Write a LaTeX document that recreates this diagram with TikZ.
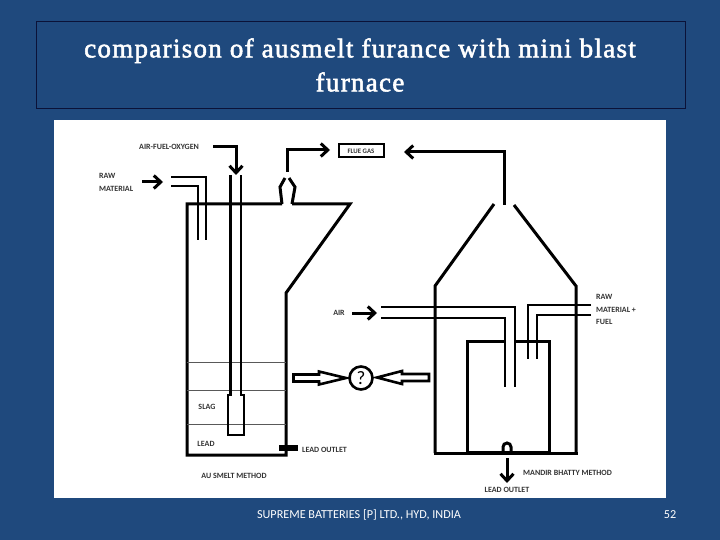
\documentclass[tikz,border=0pt]{standalone}
\usepackage{fontspec}
\setmainfont{Liberation Serif}
\setsansfont{Carlito}
\newfontfamily\titlefont[LetterSpace=4.8, FakeBold=2]{Liberation Serif}
\usepackage{xcolor}
\definecolor{slidebg}{HTML}{1F497D}
\definecolor{framedark}{HTML}{0B1238}
\definecolor{labeltext}{HTML}{333333}
\usetikzlibrary{arrows.meta, positioning}

\begin{document}
\begin{tikzpicture}[
        x=1pt, y=-1pt,
        wall/.style={draw=black, line width=3pt, line join=miter},
        pipe/.style={draw=black, line width=2.8pt},
        feed/.style={draw=black, line width=3pt, -{Straight Barb[length=7pt, width=13pt, line width=3pt]}},
        level/.style={draw=black!65, line width=0.7pt},
        hollow/.style={draw=black, line width=2.6pt, fill=white, line join=miter},
        tag/.style={font=\sffamily\bfseries\fontsize{8}{9}\selectfont, text=labeltext, inner sep=0pt}
    ]

    % Slide
    \fill[slidebg] (0, 0) rectangle (720, 540);
    \draw[framedark, line width=0.8pt] (36.5, 21.5) rectangle (685, 108);
    \fill[white] (54, 120) rectangle (666, 498);
    \node[text=white, font=\titlefont\fontsize{27}{34}\selectfont, align=center, inner sep=0pt] (title) at (360, 65) {comparison of ausmelt furance with mini blast\\furnace};
    \node[text=white, font=\sffamily\fontsize{12.2}{14}\selectfont, inner sep=0pt] (footer) at (359, 515) {SUPREME BATTERIES [P] LTD., HYD, INDIA};
    \node[text=white, font=\sffamily\fontsize{12.2}{14}\selectfont, inner sep=0pt] (page) at (670, 515) {52};

    % Au smelt furnace (left)
    \draw[wall] (282, 204) -- (187, 204) -- (187, 455) -- (286, 455) -- (286, 293) -- (350, 204) -- (292, 204);
    \draw[wall] (282, 204) -- (280, 187) -- (285, 178);
    \draw[wall] (292, 204) -- (295, 187) -- (289, 178);
    \draw[level] (187, 362) -- (286, 362);
    \draw[level] (187, 390) -- (286, 390);
    \draw[level] (187, 424) -- (286, 424);

    % Lance
    \draw[pipe] (230.5, 175) -- (230.5, 395) -- (228, 395) -- (228, 435) -- (244, 435) -- (244, 395) -- (241, 395) -- (241, 175);

    % Feed pipes, left
    \draw[pipe] (171, 177) -- (206, 177) -- (206, 240);
    \draw[pipe] (171, 186) -- (198, 186) -- (198, 240);
    \fill[black] (279, 445) rectangle (298, 451);

    % Arrows, left
    \draw[feed] (142, 182) -- (163, 182);
    \draw[feed] (213, 147) -- (236, 147) -- (236, 175);
    \draw[feed] (287, 172) -- (287, 150) -- (330, 150);

    % Flue gas box
    \node[draw=black, line width=2pt, minimum width=45pt, minimum height=13pt, inner sep=0pt, font=\sffamily\bfseries\fontsize{6.8}{8}\selectfont, text=labeltext] (flue) at (361, 151) {FLUE GAS};

    % Mandir bhatty furnace (right)
    \draw[wall] (435, 453) -- (435, 286) -- (494, 204);
    \draw[wall] (514, 205) -- (576, 286) -- (576, 453);
    \draw[wall] (434, 453) -- (578, 453);
    \draw[wall] (505, 341) -- (467, 341) -- (467, 453);
    \draw[wall] (515, 341) -- (549, 341) -- (549, 453);
    \draw[black, line width=4pt] (467, 452.5) -- (549, 452.5);
    \draw[wall] (503, 451) -- (503, 447) arc[start angle=180, end angle=360, radius=4] -- (511, 451);

    % Feed pipes, right
    \draw[pipe] (381, 307) -- (515, 307) -- (515, 387);
    \draw[pipe] (381, 318) -- (505, 318) -- (505, 387);
    \draw[pipe] (591, 305) -- (528, 305) -- (528, 359);
    \draw[pipe] (591, 315) -- (537, 315) -- (537, 359);

    % Arrows, right
    \draw[feed] (504, 205) -- (504, 152) -- (404, 152);
    \draw[feed] (352, 313) -- (377, 313);
    \draw[feed] (507, 458) -- (507, 483);

    % Comparison sign
    \node[draw=black, line width=2.6pt, circle, minimum size=23pt, inner sep=0pt, font=\sffamily\fontsize{19}{19}\selectfont] (versus) at (361, 378) {?};
    \draw[hollow] (293.5, 374.5) -- (319, 374.5) -- (319, 371.5) -- (346, 378) -- (319, 384.5) -- (319, 381.5) -- (293.5, 381.5) -- cycle;
    \draw[hollow] (429, 374) -- (402, 374) -- (402, 371) -- (377, 377.5) -- (402, 384) -- (402, 381) -- (429, 381) -- cycle;

    % Labels
    \node[tag, anchor=west] (airfuel) at (139, 147) {AIR-FUEL-OXYGEN};
    \node[tag, anchor=west] (rawa) at (99, 176) {RAW};
    \node[tag, anchor=west] (rawb) at (99, 189) {MATERIAL};
    \node[tag] (slag) at (207, 407) {SLAG};
    \node[tag] (lead) at (206, 444) {LEAD};
    \node[tag, anchor=west] (outleta) at (302, 450) {LEAD OUTLET};
    \node[tag] (method) at (234, 476) {AU SMELT METHOD};
    \node[tag] (air) at (339, 312.5) {AIR};
    \node[tag, anchor=west] (rawc) at (596, 297) {RAW};
    \node[tag, anchor=west] (rawd) at (596, 309.5) {MATERIAL +};
    \node[tag, anchor=west] (fuel) at (596, 322) {FUEL};
    \node[tag, anchor=west] (mandir) at (523, 473) {MANDIR BHATTY METHOD};
    \node[tag] (outletb) at (507, 490) {LEAD OUTLET};

    \useasboundingbox (0, 0) rectangle (720, 540);
\end{tikzpicture}
\end{document}
